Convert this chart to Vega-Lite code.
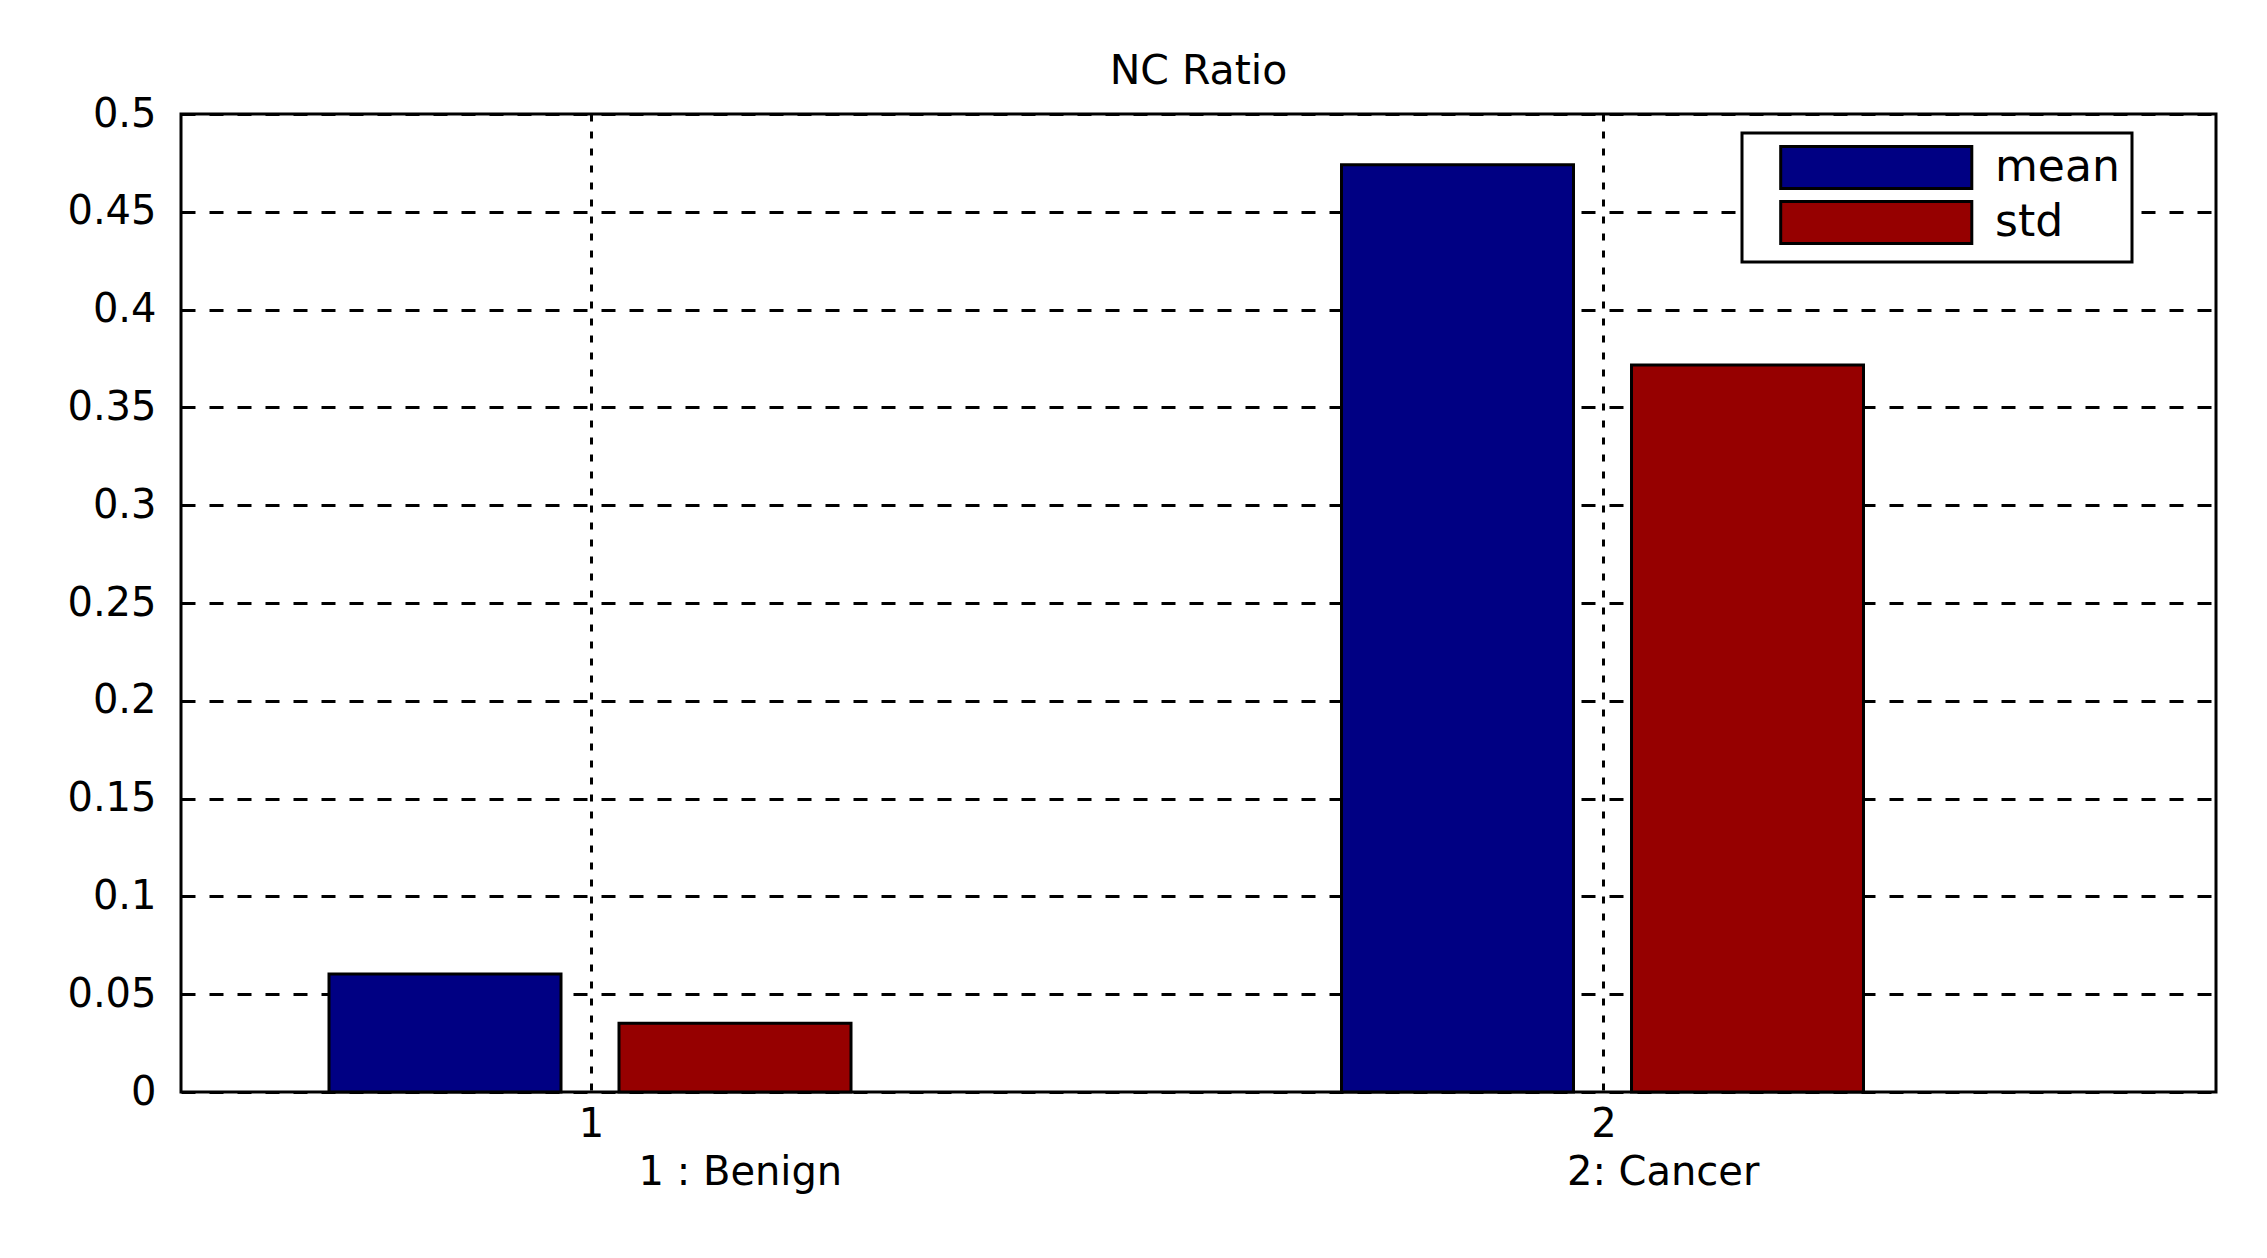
{
  "$schema": "https://vega.github.io/schema/vega-lite/v6.json",
  "width": 2035,
  "height": 978,
  "autosize": {"type": "none"},
  "padding": {"left": 181, "top": 114, "right": 51, "bottom": 166},
  "background": "white",
  "title": {"text": "NC Ratio", "fontSize": 41, "font": "DejaVu Sans", "fontWeight": "normal", "color": "black", "offset": 1},
  "data": {"values": [
    {"group": 1, "stat": "mean", "value": 0.0603},
    {"group": 1, "stat": "std", "value": 0.0351},
    {"group": 2, "stat": "mean", "value": 0.474},
    {"group": 2, "stat": "std", "value": 0.3717}
  ]},
  "encoding": {
    "x": {
      "field": "group", "type": "quantitative",
      "scale": {"domain": [0.6, 2.6], "nice": false, "zero": false},
      "axis": {
        "values": [1, 2], "format": "d", "grid": true, "gridDash": [7, 10], "gridColor": "black", "gridWidth": 3, "gridOpacity": 1,
        "ticks": false, "tickSize": 0, "domain": false,
        "labelFont": "DejaVu Sans", "labelFontSize": 40, "labelColor": "black", "labelPadding": 12, "labelAngle": 0,
        "title": "1 : Benign\u00a0\u00a0\u00a0\u00a0\u00a0\u00a0\u00a0\u00a0\u00a0\u00a0\u00a0\u00a0\u00a0\u00a0\u00a0\u00a0\u00a0\u00a0\u00a0\u00a0\u00a0\u00a0\u00a0\u00a0\u00a0\u00a0\u00a0\u00a0\u00a0\u00a0\u00a0\u00a0\u00a0\u00a0\u00a0\u00a0\u00a0\u00a0\u00a0\u00a0\u00a0\u00a0\u00a0\u00a0\u00a0\u00a0\u00a0\u00a0\u00a0\u00a0\u00a0\u00a0\u00a0\u00a0\u00a0\u00a0\u00a02: Cancer",
        "titleFont": "DejaVu Sans", "titleFontSize": 40, "titleFontWeight": "normal", "titleColor": "black", "titlePadding": 8
      }
    },
    "y": {
      "field": "value", "type": "quantitative", "stack": null,
      "scale": {"domain": [0, 0.5], "nice": false},
      "axis": {
        "values": [0, 0.05, 0.1, 0.15, 0.2, 0.25, 0.3, 0.35, 0.4, 0.45, 0.5], "format": "~g",
        "grid": true, "gridDash": [14, 14], "gridColor": "black", "gridWidth": 3, "gridOpacity": 1,
        "ticks": false, "tickSize": 0, "domain": false,
        "labelFont": "DejaVu Sans", "labelFontSize": 40, "labelColor": "black", "labelPadding": 25,
        "title": null
      }
    },
    "color": {
      "field": "stat", "type": "nominal",
      "scale": {"domain": ["mean", "std"], "range": ["#000083", "#960000"]},
      "legend": {
        "title": null, "orient": "none", "legendX": 1561, "legendY": 19,
        "symbolType": "M0.2,-1H9.3V1H0.2Z", "symbolSize": 1764,
        "symbolStrokeColor": "black", "symbolStrokeWidth": 3, "symbolOpacity": 1,
        "labelFont": "DejaVu Sans", "labelFontSize": 44, "labelColor": "black", "labelOffset": 196, "labelLimit": 400,
        "strokeColor": "black", "padding": 12, "rowPadding": 0, "fillColor": "white"
      }
    }
  },
  "layer": [
    {"transform": [{"filter": "datum.stat === 'mean'"}], "mark": {"type": "bar", "orient": "vertical", "width": 232, "xOffset": -146, "stroke": "black", "strokeWidth": 3, "opacity": 1}},
    {"transform": [{"filter": "datum.stat === 'std'"}], "mark": {"type": "bar", "orient": "vertical", "width": 232, "xOffset": 144, "stroke": "black", "strokeWidth": 3, "opacity": 1}}
  ],
  "config": {"view": {"stroke": "black", "strokeWidth": 3}, "legend": {"strokeWidth": 3}}
}
